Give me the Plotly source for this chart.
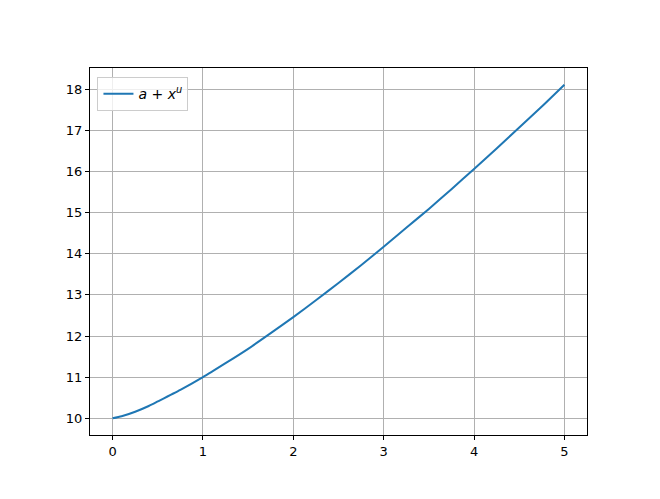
import plotly.graph_objects as go

# values
x_vals = [0, 0.1, 0.25, 0.4, 0.5, 0.75, 1, 1.25, 1.5, 1.75, 2, 2.25, 2.5, 2.75,
          3, 3.25, 3.5, 3.75, 4, 4.25, 4.5, 4.75, 5]
y_vals = [10.0, 10.05, 10.16, 10.30, 10.41, 10.69, 11.0, 11.34, 11.69, 12.07,
          12.46, 12.87, 13.29, 13.72, 14.17, 14.63, 15.09, 15.57, 16.06, 16.56,
          17.07, 17.58, 18.11]
x_ticks = [0, 1, 2, 3, 4, 5]
y_ticks = [10, 11, 12, 13, 14, 15, 16, 17, 18]

fig = go.Figure()
fig.add_trace(go.Scatter(
    x=x_vals, y=y_vals, mode="lines",
    line=dict(color="#1f77b4", width=2, shape="spline", smoothing=0.6),
    name="<i>a</i> + <i>x</i><sup><i>u</i></sup>",
))

axis_common = dict(
    showgrid=True, gridcolor="#b0b0b0", gridwidth=1,
    showline=True, linecolor="black", linewidth=1, mirror=True,
    ticks="outside", ticklen=4, tickcolor="black",
    zeroline=False, tickfont=dict(size=13, color="black"),
)

fig.update_layout(
    width=660, height=499,
    paper_bgcolor="white", plot_bgcolor="white",
    font=dict(family="DejaVu Sans", color="black"),
    margin=dict(l=82, r=81, t=60, b=72),
    showlegend=True,
    legend=dict(
        x=0.015, y=0.975, xanchor="left", yanchor="top",
        bgcolor="rgba(255,255,255,0.8)", bordercolor="#cccccc", borderwidth=1,
        font=dict(size=14),
    ),
    xaxis=dict(range=[-0.25, 5.25], tickvals=x_ticks, **axis_common),
    yaxis=dict(range=[9.595, 18.515], tickvals=y_ticks, **axis_common),
)

fig.write_html("out.html")
